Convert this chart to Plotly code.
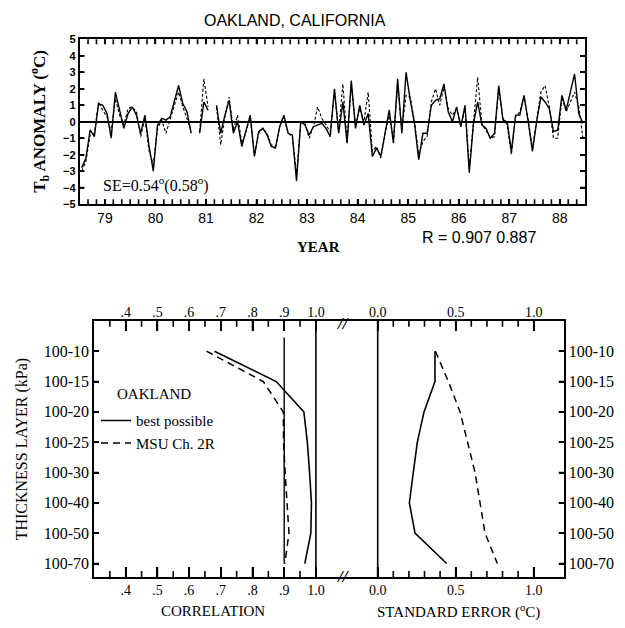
import plotly.graph_objects as go

# ---------------- data ----------------
year_labels = ["79", "80", "81", "82", "83", "84", "85", "86", "87", "88"]
year_mid = [1979.5 + i for i in range(10)]
months = [1979 + (i + 0.5) / 12 for i in range(120)]          # mid-month, decimal years
bimonth_ticks = [1979 + k / 6 for k in range(1, 60) if k % 6 != 3]

tb_best = [
    -2.8, -2.2, -0.5, -0.9, 1.1, 1.0, 0.5, -1.0, 1.8, 0.6, -0.4, 0.5,
    0.9, 0.4, -0.7, 0.4, -1.5, -3.0, -0.2, 0.2, 0.1, 0.3, 1.3, 2.2,
    1.1, 0.6, -0.7, None, -0.7, 1.2, 0.7, None, 1.0, -0.7, 0.4, 1.3,
    -0.7, 0.0, -1.5, -0.5, 0.4, -2.1, -0.6, -0.4, -0.8, -1.5, -1.6, -0.3,
    0.4, -0.7, -0.8, -3.6, 0.0, -0.2, -0.8, -0.3, -0.2, -0.1, -0.4, -0.9,
    2.0, -0.7, 1.2, -1.3, 2.5, -0.4, 1.0, -0.2, 0.5, -2.1, -1.6, -2.1,
    -0.7, 0.7, -1.3, 2.6, -0.7, 3.0, 1.3, -0.1, -2.3, -0.7, -0.7, 1.0,
    1.3, 1.4, 2.3, 0.6, 0.0, 0.9, -0.3, 1.0, -3.1, -0.1, 1.2, -0.2,
    -0.4, -1.0, -0.7, 2.2, 0.1, 0.0, -1.8, 0.4, 0.4, 1.6, 0.0, -1.8,
    0.0, 1.5, 1.2, 0.8, -0.6, -0.5, 1.6, 0.7, 1.8, 2.9, 0.5, -0.1,
]
tb_msu = [
    -3.0, -2.4, -0.8, -0.7, 1.2, 0.7, 0.3, -0.6, 1.4, 0.4, -0.2, 0.8,
    0.9, 0.6, -0.9, 0.2, -1.8, -2.6, -0.4, 0.1, -0.7, 0.2, 1.0, 1.8,
    0.9, 0.2, -0.6, None, -0.6, 2.6, 0.9, None, 0.9, -1.4, 0.3, 1.5,
    -0.5, 0.4, -1.3, -0.6, 0.3, -2.0, -0.7, -0.4, -0.7, -1.4, -1.5, -0.3,
    0.3, -0.7, -0.9, -3.2, 0.0, -0.1, -1.0, -0.3, 0.9, 0.2, -0.2, -0.6,
    1.8, -0.6, 2.3, -1.2, 2.2, -0.2, 0.8, 0.0, 1.8, -1.8, -1.5, -2.2,
    -0.8, 0.5, -1.1, 2.2, -0.5, 1.6, 1.5, 0.0, -2.0, -1.2, -0.9, 1.2,
    2.0, 1.0, 2.1, 0.8, 0.4, 0.8, -0.3, 0.8, -2.8, 0.0, 2.7, -0.1,
    -0.6, -1.0, -0.9, 2.0, 0.2, -0.2, -2.0, 0.3, 0.6, 1.5, 0.1, -1.6,
    0.1, 1.8, 2.2, 0.9, -1.0, -1.0, 1.5, 0.6, 1.2, 1.8, 0.9, -1.0,
]
anomaly_ticks = [-4, -3, -2, -1, 0, 1, 2, 3, 4]

layers = ["100-10", "100-15", "100-20", "100-25", "100-30", "100-40", "100-50", "100-70"]
corr_best = [0.68, 0.875, 0.962, 0.973, 0.980, 0.986, 0.984, 0.965]
corr_msu = [0.655, 0.834, 0.897, 0.898, 0.903, 0.910, 0.915, 0.902]
se_best = [0.367, 0.367, 0.297, 0.254, 0.228, 0.203, 0.239, 0.442]
se_msu = [0.370, 0.453, 0.528, 0.574, 0.624, 0.656, 0.688, 0.767]

corr_ticks = [0.4, 0.5, 0.6, 0.7, 0.8, 0.9, 1.0]
corr_ticktext = [".4", ".5", ".6", ".7", ".8", ".9", "1.0"]
corr_minor = [0.35, 0.45, 0.55, 0.65, 0.75, 0.85, 0.95]
se_ticks = [0.0, 0.5, 1.0]
se_ticktext = ["0.0", "0.5", "1.0"]
se_minor = [0.1, 0.2, 0.3, 0.4, 0.6, 0.7, 0.8, 0.9]

# ---------------- layout helpers ----------------
W, H = 625, 628
def px(x):
    return x / W
def py(y):
    return 1 - y / H

SERIF = "Liberation Serif"
SANS = "Liberation Sans"
BLACK = "#000000"

fig = go.Figure()

# top time series
fig.add_trace(go.Scatter(x=months, y=tb_msu, mode="lines", xaxis="x", yaxis="y",
                         line=dict(color=BLACK, width=1.1, dash="3px,2px"),
                         connectgaps=False, showlegend=False))
fig.add_trace(go.Scatter(x=months, y=tb_best, mode="lines", xaxis="x", yaxis="y",
                         line=dict(color=BLACK, width=1.4),
                         connectgaps=False, showlegend=False))

# bottom: correlation
fig.add_trace(go.Scatter(x=corr_best, y=layers, mode="lines", xaxis="x3", yaxis="y3",
                         name="best possible", line=dict(color=BLACK, width=1.6)))
fig.add_trace(go.Scatter(x=corr_msu, y=layers, mode="lines", xaxis="x3", yaxis="y3",
                         name="MSU Ch. 2R", line=dict(color=BLACK, width=1.5, dash="7px,5px")))
# bottom: standard error
fig.add_trace(go.Scatter(x=se_best, y=layers, mode="lines", xaxis="x4", yaxis="y4",
                         line=dict(color=BLACK, width=1.6), showlegend=False))
fig.add_trace(go.Scatter(x=se_msu, y=layers, mode="lines", xaxis="x4", yaxis="y4",
                         line=dict(color=BLACK, width=1.5, dash="7px,5px"), showlegend=False))
# empty traces so the top-side label axes are drawn
for xa, ya in (("x5", "y3"), ("x6", "y4")):
    fig.add_trace(go.Scatter(x=[None], y=[None], xaxis=xa, yaxis=ya, showlegend=False,
                             hoverinfo="skip"))

TOP_L, TOP_R, TOP_T, TOP_B = 79.5, 585, 34, 202
BOT_L, BOT_R, BOT_T, BOT_B = 94, 563.7, 321, 582
SPLIT = 341.7
top_dom_x = [px(TOP_L), px(TOP_R)]
top_dom_y = [py(TOP_B), py(TOP_T)]
bot_dom_y = [py(BOT_B), py(BOT_T)]
corr_dom = [px(BOT_L), px(SPLIT)]
se_dom = [px(SPLIT), px(BOT_R)]
cat_range = [7.44, -1.0]
corr_range = [0.3, 1.0814]
se_range = [-0.2308, 1.1923]
time_range = [1978.998, 1988.998]

def axis_base(**kw):
    d = dict(showgrid=False, zeroline=False, showline=True, linecolor=BLACK,
             linewidth=1.6, tickcolor=BLACK, tickwidth=1.6)
    d.update(kw)
    return d

fig.update_layout(
    width=W, height=H,
    margin=dict(l=0, r=0, t=0, b=0),
    paper_bgcolor="white", plot_bgcolor="rgba(0,0,0,0)",
    xaxis=axis_base(domain=top_dom_x, anchor="y",
                    range=time_range, tickvals=year_mid, ticktext=year_labels,
                    ticks="inside", ticklen=5, mirror="allticks",
                    tickfont=dict(family=SANS, size=14, color=BLACK)),
    yaxis=axis_base(domain=top_dom_y, anchor="x", range=[-5, 5], dtick=1,
                    ticks="inside", ticklen=5, mirror="allticks",
                    zeroline=True, zerolinecolor=BLACK, zerolinewidth=1.6,
                    tickfont=dict(family=SANS, size=11, color=BLACK, weight="bold")),
    xaxis3=axis_base(domain=corr_dom, anchor="y3", range=corr_range,
                     tickvals=corr_ticks, ticktext=corr_ticktext, ticks="inside", ticklen=10,
                     mirror="allticks",
                     tickfont=dict(family=SERIF, size=14, color=BLACK)),
    xaxis5=dict(overlaying="x3", anchor="y3", side="top", range=corr_range,
                domain=corr_dom, tickvals=corr_ticks, ticktext=corr_ticktext,
                ticks="", showline=False, showgrid=False, zeroline=False,
                tickfont=dict(family=SERIF, size=14, color=BLACK)),
    xaxis4=axis_base(domain=se_dom, anchor="y3", range=se_range,
                     tickvals=se_ticks, ticktext=se_ticktext, ticks="inside", ticklen=10,
                     mirror="allticks",
                     tickfont=dict(family=SERIF, size=14, color=BLACK)),
    xaxis6=dict(overlaying="x4", anchor="y4", side="top", range=se_range,
                domain=se_dom, tickvals=se_ticks, ticktext=se_ticktext,
                ticks="", showline=False, showgrid=False, zeroline=False,
                tickfont=dict(family=SERIF, size=14, color=BLACK)),
    yaxis3=axis_base(domain=bot_dom_y, anchor="x3", type="category",
                     categoryorder="array", categoryarray=layers, range=cat_range,
                     ticks="inside", ticklen=5, side="left",
                     tickfont=dict(family=SERIF, size=16, color=BLACK)),
    yaxis4=axis_base(domain=bot_dom_y, anchor="x4", overlaying="y3", side="right",
                     type="category", categoryorder="array", categoryarray=layers,
                     range=cat_range, ticks="inside", ticklen=5,
                     tickfont=dict(family=SERIF, size=16, color=BLACK)),
    legend=dict(x=px(96), y=py(406), xanchor="left", yanchor="top",
                bgcolor="rgba(0,0,0,0)", font=dict(family=SERIF, size=15, color=BLACK),
                itemwidth=30, tracegroupgap=0),
)

TICK = dict(color=BLACK, width=1.6)

def vticks(vals, xref, yref, length_px, height_px):
    """Tick marks pointing into the frame from the bottom and top edges."""
    f = length_px / height_px
    for v in vals:
        fig.add_shape(type="line", xref=xref, yref=yref, x0=v, x1=v, y0=0, y1=f, line=TICK)
        fig.add_shape(type="line", xref=xref, yref=yref, x0=v, x1=v, y0=1, y1=1 - f, line=TICK)

def hticks(vals, xref, yref, length_px, width_px, sides=(0, 1)):
    f = length_px / width_px
    for v in vals:
        for s in sides:
            fig.add_shape(type="line", xref=xref, yref=yref, y0=v, y1=v, x0=s,
                          x1=s + (f if s == 0 else -f), line=TICK)

# top panel ticks
vticks(bimonth_ticks + year_mid, "x", "y domain", 5, TOP_B - TOP_T)
hticks(anomaly_ticks, "x domain", "y", 5, TOP_R - TOP_L)
# lower panel ticks
vticks(corr_ticks, "x3", "y3 domain", 10, BOT_B - BOT_T)
vticks(corr_minor, "x3", "y3 domain", 6, BOT_B - BOT_T)
vticks(se_ticks, "x4", "y3 domain", 10, BOT_B - BOT_T)
vticks(se_minor, "x4", "y3 domain", 6, BOT_B - BOT_T)
layer_index = list(range(len(layers)))
hticks(layer_index, "x3 domain", "y3", 5, SPLIT - BOT_L, sides=(0,))
hticks(layer_index, "x4 domain", "y3", 5, BOT_R - SPLIT, sides=(1,))

# reference lines in the lower panel
fig.add_shape(type="line", xref="x3", yref="y3 domain", x0=1.0, x1=1.0, y0=0, y1=1,
              line=dict(color=BLACK, width=1.6))
fig.add_shape(type="line", xref="x4", yref="y3 domain", x0=0.0, x1=0.0, y0=0, y1=1,
              line=dict(color=BLACK, width=1.6))
fig.add_shape(type="line", xref="x3", yref="y3", x0=0.9, x1=0.9, y0=-0.45, y1=7,
              line=dict(color=BLACK, width=1.4))

def ann(text, x, y, size, family, angle=0, xanchor="center", weight="normal", style="normal"):
    fig.add_annotation(text=text, x=px(x), y=py(y), xref="paper", yref="paper",
                       showarrow=False, textangle=angle, xanchor=xanchor, yanchor="middle",
                       font=dict(family=family, size=size, color=BLACK, weight=weight,
                                 style=style))

ann("OAKLAND, CALIFORNIA", 295, 15, 16, SANS)
ann("T<sub>b</sub> ANOMALY (<sup>o</sup>C)", 40, 118, 17, SERIF, angle=-90, weight="bold")
ann("SE=0.54<sup>o</sup>(0.58<sup>o</sup>)", 101, 182, 16, SERIF, xanchor="left")
ann("YEAR", 318, 246, 15, SERIF, weight="bold")
ann("R = 0.907 0.887", 420, 236, 16, SANS, xanchor="left")
ann("OAKLAND", 115, 396, 15, SERIF, xanchor="left")
ann("THICKNESS LAYER (kPa)", 22, 452, 16, SERIF, angle=-90)
ann("CORRELATION", 213, 617, 15, SERIF)
ann("STANDARD ERROR (<sup>o</sup>C)", 458, 617, 15, SERIF)
ann("//", 343, 324, 17, SERIF, weight="bold", style="italic")
ann("//", 343, 582, 17, SERIF, weight="bold", style="italic")

fig.write_html("out.html")
